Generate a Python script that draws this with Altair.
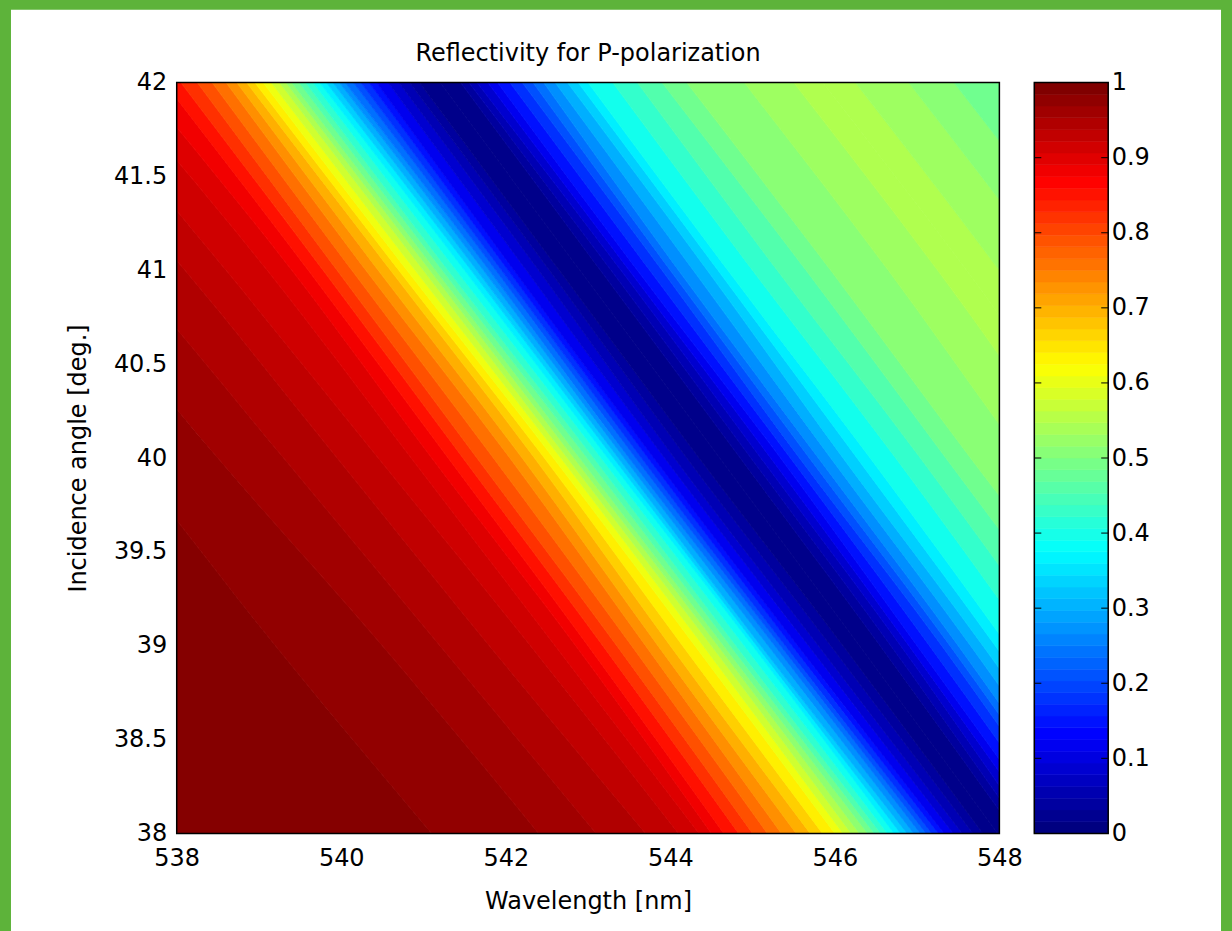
import altair as alt
import pandas as pd

# ---------------- data ----------------
# Contour (iso-reflectivity) lines, left to right: level and the wavelength [nm]
# where the line crosses the incidence angles 42, 41, 40, 39 and 38 deg.
# (Values outside 538..548 are where a line continues beyond the frame.)
angles = [42.0, 41.0, 40.0, 39.0, 38.0]
iso_level = [1.0, 0.99, 0.975, 0.96, 0.945, 0.93, 0.915, 0.9, 0.875,
             0.84375, 0.8125, 0.78125, 0.75, 0.71875, 0.6875, 0.65625, 0.625, 0.59375, 0.5625,
             0.53125, 0.5, 0.46875, 0.4375, 0.40625, 0.375, 0.34375, 0.3125, 0.28125, 0.25,
             0.21875, 0.1875, 0.15625, 0.125, 0.09375, 0.0625, 0.04, 0.02, 0.0,
             0.02, 0.04, 0.0625, 0.09375, 0.125, 0.15625, 0.1875, 0.21875, 0.25, 0.28125,
             0.3125, 0.34375, 0.375, 0.41, 0.44, 0.47, 0.5, 0.52, 0.54,
             0.555,
             0.54, 0.52, 0.5, 0.47, 0.44]
iso_x42 = [528, 533.6, 534.6, 535.4, 536.1, 536.7, 537.2, 537.55, 537.85,
           538.05, 538.25, 538.43, 538.6, 538.73, 538.85, 538.95, 539.05, 539.15, 539.25,
           539.33, 539.4, 539.49, 539.57, 539.66, 539.74, 539.82, 539.9, 539.98, 540.05,
           540.15, 540.24, 540.34, 540.43, 540.57, 540.7, 540.83, 540.95, 541.2,
           541.45, 541.55, 541.65, 541.78, 541.9, 542.05, 542.2, 542.33, 542.46, 542.6,
           542.75, 542.88, 543.0, 543.3, 543.6, 543.9, 544.2, 544.9, 545.5,
           545.85,
           546.25, 546.9, 547.45, 548.0, 548.6]
iso_x41 = [528, 535.5, 536.6, 537.4, 538.1, 538.6, 539.1, 539.4, 539.6,
           539.78, 539.95, 540.13, 540.3, 540.45, 540.6, 540.7, 540.8, 540.9, 541.0,
           541.08, 541.15, 541.23, 541.3, 541.4, 541.5, 541.58, 541.65, 541.73, 541.8,
           541.88, 541.95, 542.03, 542.1, 542.25, 542.4, 542.53, 542.65, 542.9,
           543.15, 543.28, 543.4, 543.5, 543.6, 543.75, 543.9, 544.0, 544.1, 544.28,
           544.45, 544.58, 544.7, 545.0, 545.3, 545.65, 545.95, 546.65, 547.25,
           547.6,
           548.0, 548.65, 549.2, 549.75, 550.35]
iso_x40 = [528, 537.4, 538.5, 539.3, 539.95, 540.45, 540.85, 541.1, 541.3,
           541.48, 541.65, 541.85, 542.05, 542.2, 542.35, 542.47, 542.58, 542.67, 542.75,
           542.83, 542.9, 542.99, 543.07, 543.16, 543.24, 543.31, 543.37, 543.44, 543.5,
           543.58, 543.65, 543.73, 543.8, 543.93, 544.05, 544.2, 544.35, 544.6,
           544.85, 544.98, 545.1, 545.22, 545.34, 545.46, 545.57, 545.69, 545.8, 545.95,
           546.1, 546.27, 546.43, 546.74, 547.04, 547.35, 547.65, 548.3, 548.9,
           549.25,
           549.65, 550.3, 550.85, 551.4, 552.0]
iso_x39 = [528, 539.2, 540.5, 541.2, 541.8, 542.3, 542.6, 542.85, 543.0,
           543.18, 543.35, 543.53, 543.7, 543.85, 544.0, 544.15, 544.3, 544.4, 544.5,
           544.58, 544.65, 544.73, 544.8, 544.9, 545.0, 545.05, 545.1, 545.19, 545.27,
           545.34, 545.4, 545.48, 545.55, 545.68, 545.8, 545.95, 546.1, 546.3,
           546.55, 546.68, 546.8, 546.9, 547.0, 547.15, 547.3, 547.4, 547.5, 547.65,
           547.8, 547.95, 548.1, 548.4, 548.7, 549.05, 549.4, 550.05, 550.65,
           551.0,
           551.4, 552.05, 552.6, 553.15, 553.75]
iso_x38 = [528, 541.1, 542.4, 543.1, 543.7, 544.1, 544.35, 544.5, 544.65,
           544.83, 545.0, 545.18, 545.35, 545.53, 545.7, 545.85, 546.0, 546.1, 546.2,
           546.3, 546.4, 546.48, 546.56, 546.64, 546.72, 546.8, 546.88, 546.96, 547.04,
           547.11, 547.18, 547.26, 547.33, 547.44, 547.55, 547.68, 547.8, 547.98,
           548.2, 548.3, 548.4, 548.53, 548.65, 548.78, 548.9, 549.0, 549.1, 549.25,
           549.4, 549.55, 549.7, 550.0, 550.3, 550.7, 551.0, 551.7, 552.3,
           552.6,
           553.0, 553.7, 554.2, 554.8, 555.4]

x_ticks = [538, 540, 542, 544, 546, 548]
y_ticks = [38, 38.5, 39, 39.5, 40, 40.5, 41, 41.5, 42]
cb_ticks = [0, 0.1, 0.2, 0.3, 0.4, 0.5, 0.6, 0.7, 0.8, 0.9, 1]
cb_levels = 64

title_text = "Reflectivity for P-polarization"
x_title = "Wavelength [nm]"
y_title = "Incidence angle [deg.]"

# ---------------- style ----------------
W, H = 824, 752
CBW = 74
FONT = "DejaVu Sans"
FS = 24
GREEN = "#5db33a"
jet = alt.Scale(domain=[0, 0.125, 0.375, 0.625, 0.875, 1],
                range=["#000080", "#0000ff", "#00ffff", "#ffff00", "#ff0000", "#800000"],
                interpolate="rgb")

# ---------------- tables ----------------
rows_x = [iso_x42, iso_x41, iso_x40, iso_x39, iso_x38]
band_rows = []
for k in range(len(iso_level) - 1):
    mid = (iso_level[k] + iso_level[k + 1]) / 2
    for j, a in enumerate(angles):
        band_rows.append({"band": k, "angle": a, "x0": rows_x[j][k],
                          "x1": rows_x[j][k + 1], "R": mid})
bands_df = pd.DataFrame(band_rows)

cb_df = pd.DataFrame({
    "lo": [i / cb_levels for i in range(cb_levels)],
    "hi": [(i + 1) / cb_levels for i in range(cb_levels)],
    "c": [i / (cb_levels - 1) for i in range(cb_levels)],
})

xscale = alt.Scale(domain=[538, 548], nice=False, zero=False)
yscale = alt.Scale(domain=[38, 42], nice=False, zero=False)
cbscale = alt.Scale(domain=[0, 1], nice=False, zero=False)

axis_common = dict(ticks=False, domain=False, grid=False, labelFont=FONT, labelFontSize=FS,
                   labelColor="black", titleFont=FONT, titleFontSize=FS,
                   titleFontWeight="normal", titleColor="black", labelFlush=False,
                   labelOverlap=False, zindex=2)
x_axis = alt.Axis(values=x_ticks, format="~g", labelPadding=13, titlePadding=19, **axis_common)
y_axis = alt.Axis(values=y_ticks, format="~g", labelPadding=10, titlePadding=23, **axis_common)
cb_axis = alt.Axis(orient="right", values=cb_ticks, format="~g", labelPadding=3, **axis_common)


def xe(field):
    return alt.X(field, scale=xscale, stack=None, title=x_title, axis=x_axis)


def ye(field):
    return alt.Y(field, scale=yscale, title=y_title, axis=y_axis)


def cbe(field):
    return alt.Y(field, scale=cbscale, title="", axis=cb_axis)


one = alt.Data(values=[{}])

bg = alt.Chart(one).mark_rect(color="white").encode(
    x=alt.value(-166), x2=alt.value(W + 222), y=alt.value(-73), y2=alt.value(H + 98))

bands = alt.Chart(bands_df).mark_area(
    orient="horizontal", interpolate="monotone", clip=True, strokeWidth=0.8
).encode(
    y=ye("angle:Q"),
    x=xe("x0:Q"),
    x2="x1:Q",
    detail="band:N",
    color=alt.Color("R:Q", scale=jet, legend=None),
    stroke=alt.Stroke("R:Q", scale=jet, legend=None),
)

box = alt.Chart(one).mark_rect(filled=False, stroke="black", strokeWidth=1.5).encode(
    x=alt.value(0), x2=alt.value(W), y=alt.value(0), y2=alt.value(H))
title = alt.Chart(alt.Data(values=[{"t": title_text}])).mark_text(
    font=FONT, fontSize=FS, color="black", align="center", baseline="middle").encode(
    text="t:N", x=alt.value(W / 2), y=alt.value(-29))

main = alt.layer(bg, bands, box, title).properties(width=W, height=H)

cbar = alt.Chart(cb_df).mark_rect(strokeWidth=0.6).encode(
    y=cbe("lo:Q"),
    y2="hi:Q",
    x=alt.value(0), x2=alt.value(CBW),
    color=alt.Color("c:Q", scale=jet, legend=None),
    stroke=alt.Stroke("c:Q", scale=jet, legend=None),
)
ct = pd.DataFrame({"v": cb_ticks[1:-1]})
ctick_l = alt.Chart(ct).mark_rule(color="black", strokeWidth=1).encode(
    y=cbe("v:Q"), x=alt.value(0), x2=alt.value(7))
ctick_r = alt.Chart(ct).mark_rule(color="black", strokeWidth=1).encode(
    y=cbe("v:Q"), x=alt.value(CBW - 7), x2=alt.value(CBW))
cbox = alt.Chart(one).mark_rect(filled=False, stroke="black", strokeWidth=1.5).encode(
    x=alt.value(0), x2=alt.value(CBW), y=alt.value(0), y2=alt.value(H))

colorbar = alt.layer(cbar, ctick_l, ctick_r, cbox).properties(width=CBW, height=H)

chart = alt.HConcatChart(hconcat=[main, colorbar], spacing=35, bounds="flush").properties(
    padding={"left": 10, "top": 8, "right": 10, "bottom": 0}
).configure(background=GREEN).configure_view(stroke="transparent")

chart.save("out.html", embed_options={"renderer": "svg", "actions": False})
